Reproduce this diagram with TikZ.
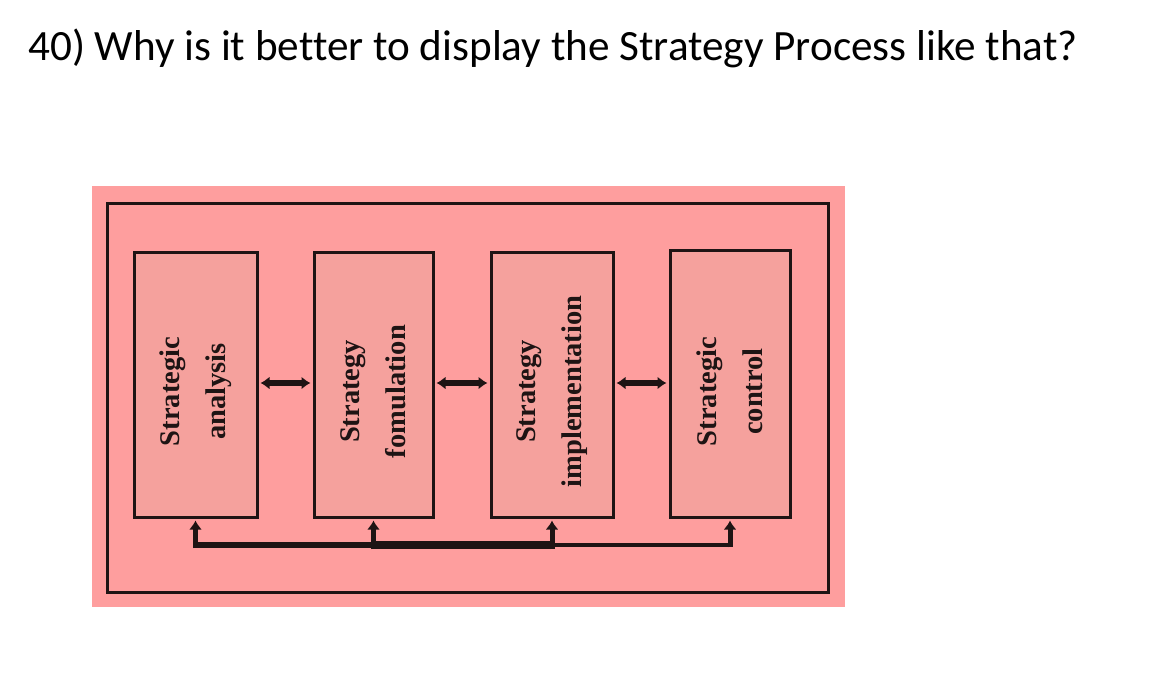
\documentclass[tikz,border=0pt]{standalone}
\usepackage{fontspec}
\setmainfont{Liberation Serif}
\newfontfamily\titlefont[Ligatures=NoCommon]{Carlito}
\usetikzlibrary{arrows.meta,calc}
\definecolor{bgpink}{HTML}{FE9E9E}
\definecolor{boxpink}{HTML}{F5A19D}
\definecolor{inkdark}{HTML}{1E1414}
\tikzset{
  stagebox/.style={draw=inkdark, line width=3pt, fill=boxpink, minimum width=#1, minimum height=265pt, inner sep=0pt},
  stagetext/.style={rotate=90, align=center, text=inkdark, font=\bfseries\fontsize{28.5}{46}\selectfont, inner sep=0pt},
  linkarrow/.style={draw=inkdark, line width=6pt, {Latex[length=9pt,width=13pt]}-{Latex[length=9pt,width=13pt]}},
  riser/.style={draw=inkdark, line width=5pt, -{Latex[length=9pt,width=13pt]}},
}
\begin{document}
\begin{tikzpicture}[x=1pt,y=-1pt]
\path[use as bounding box, fill=white] (0,0) rectangle (1156,678);
\node[anchor=base west, inner sep=0pt, font=\titlefont\fontsize{43.2}{50}\selectfont] (title) at (28,60) {40) Why is it better to display the Strategy Process like that?};
\fill[bgpink] (92,186) rectangle (845,607);
\node[draw=inkdark, line width=3pt, minimum width=721pt, minimum height=389pt, inner sep=0pt] (frame) at (467.5,397.5) {};
\node[stagebox=123pt] (b1) at (195.5,384.5) {};
\node[stagebox=119pt] (b2) at (373.5,384.5) {};
\node[stagebox=122pt] (b3) at (552,384.5) {};
\node[stagebox=120pt, minimum height=267pt] (b4) at (730,383.5) {};
\node[stagetext] (t1) at ($(b1)+(0,7)$) {Strategic\\analysis};
\node[stagetext] (t2) at ($(b2)+(0,7)$) {Strategy\\fomulation};
\node[stagetext] (t3) at ($(b3)+(0,7)$) {Strategy\\implementation};
\node[stagetext] (t4) at ($(b4)+(0,8)$) {Strategic\\control};
\draw[linkarrow] ($(b1.east)+(2,-1.5)$) -- ($(b2.west)+(-2,-1.5)$);
\draw[linkarrow] ($(b2.east)+(2,-1.5)$) -- ($(b3.west)+(-2,-1.5)$);
\draw[linkarrow] ($(b3.east)+(2,-1.5)$) -- ($(b4.west)+(-2,-0.5)$);
\coordinate (c1) at (b1.south |- 0,545);
\coordinate (c2) at (b2.south |- 0,545);
\coordinate (c3) at (b3.south |- 0,545);
\coordinate (c4) at (b4.south |- 0,545);
\draw[inkdark, line width=6pt] (c1) -- (c2);
\draw[inkdark, line width=8pt] (c2) -- (c3);
\draw[inkdark, line width=4.5pt] (c3) -- (c4);
\draw[riser] ($(c1)+(0,3)$) -- ($(b1.south)+(0,2)$);
\draw[riser] ($(c2)+(0,4)$) -- ($(b2.south)+(0,2)$);
\draw[riser] ($(c3)+(0,4)$) -- ($(b3.south)+(0,2)$);
\draw[riser] ($(c4)+(0,2.25)$) -- ($(b4.south)+(0,2)$);
\end{tikzpicture}
\end{document}
